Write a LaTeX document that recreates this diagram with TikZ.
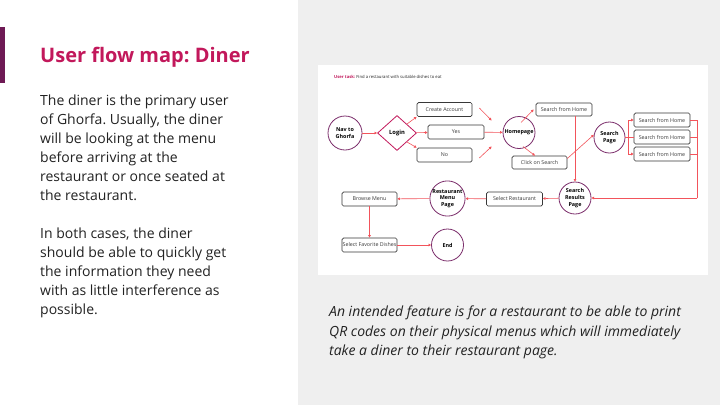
\documentclass[tikz,border=0pt]{standalone}
\usepackage{fontspec}
\setmainfont{Open Sans}
\frenchspacing
\usetikzlibrary{arrows.meta,calc,shapes.geometric}
\definecolor{accentPurple}{HTML}{6E1A55}
\definecolor{titlePink}{HTML}{C2185B}
\definecolor{textDark}{HTML}{222222}
\definecolor{panelGrey}{HTML}{EFEFEF}
\definecolor{flowRed}{HTML}{F2545B}
\definecolor{ringPurple}{HTML}{7B2D6B}
\definecolor{boxGrey}{HTML}{383838}

\begin{document}
\begin{tikzpicture}[x=1pt,y=-1pt,
  screen/.style={draw=boxGrey,rounded corners=1.5pt,line width=0.7pt,minimum width=55pt,minimum height=14pt,inner sep=0pt,font=\fontsize{5.3}{6}\selectfont,text=boxGrey},
  ring/.style={circle,draw=ringPurple,line width=0.8pt,minimum size=32pt,inner sep=0pt,align=center,font=\bfseries\fontsize{5.4}{6.6}\selectfont},
  flow/.style={draw=flowRed,line width=0.6pt,-{Triangle[length=2.6pt,width=2.6pt]}},
  bracket/.style={draw=flowRed,line width=0.6pt},
  bodyText/.style={anchor=north west,inner sep=0pt,align=left,text=textDark,font=\fontsize{14}{19}\selectfont}]
\useasboundingbox (0,0) rectangle (720,405);
% left half and grey panel
\fill[white] (0,0) rectangle (298,405);
\fill[panelGrey] (298,0) rectangle (720,405);
\fill[accentPurple] (0,27) rectangle (5,83);
\node[anchor=base west,inner sep=0pt,text=titlePink,font=\bfseries\fontsize{20}{24}\selectfont] (title) at (40,62) {User flow map: Diner};
\node[bodyText] (intro) at (40,94.5) {The diner is the primary user\\of Ghorfa. Usually, the diner\\will be looking at the menu\\before arriving at the\\restaurant or once seated at\\the restaurant.};
\node[bodyText] (cases) at (40,227.5) {In both cases, the diner\\should be able to quickly get\\the information they need\\with as little interference as\\possible.};
\node[bodyText,font=\itshape\fontsize{14}{19.5}\selectfont] (note) at (329,306) {An intended feature is for a restaurant to be able to print\\QR codes on their physical menus which will immediately\\take a diner to their restaurant page.};

% diagram card
\fill[white] (318,65) rectangle (708,275);
\node[anchor=west,inner sep=0pt,text=textDark,font=\fontsize{4.2}{5}\selectfont] (task) at (334,77) {{\color{titlePink}\bfseries User task:} Find a restaurant with suitable dishes to eat};

% first row
\node[ring,minimum size=34pt] (nav) at (345,133) {Nav to\\Ghorfa};
\node[diamond,draw=titlePink,line width=0.8pt,minimum width=39pt,minimum height=35pt,inner sep=0pt,font=\bfseries\fontsize{5.8}{7}\selectfont] (login) at (397,133) {Login};
\node[screen] (create) at (444.5,109.5) {Create Account};
\node[screen,minimum width=56pt] (yes) at (456,132) {Yes};
\node[screen] (no) at (444.5,155) {No};
\node[ring] (home) at (519,132.5) {Homepage};
\node[screen,minimum width=56pt,minimum height=13pt] (topSearch) at (564,109.5) {Search from Home};
\node[screen,minimum height=13pt] (click) at (539.5,162.5) {Click on Search};
\node[ring,minimum size=31pt] (searchPage) at (609.5,137.5) {Search\\Page};
\node[screen,minimum width=56pt] (optA) at (662,120) {Search from Home};
\node[screen,minimum width=56pt] (optB) at (662,137) {Search from Home};
\node[screen,minimum width=56pt] (optC) at (662,154) {Search from Home};
% second row
\node[ring] (results) at (575,198) {Search\\Results\\Page};
\node[screen,minimum width=56pt] (pick) at (514.5,199) {Select Restaurant};
\node[ring] (menuPage) at (447.5,198.5) {Restaurant\\Menu\\Page};
\node[screen] (browse) at (369.5,199) {Browse Menu};
\node[screen] (dishes) at (369.5,245) {Select Favorite Dishes};
\node[ring] (endNode) at (447.5,245) {End};

% connectors
\draw[flow] (nav) -- (login);
\draw[flow] (login.north east) -- (create.south west);
\draw[flow] (login) -- (yes);
\draw[flow] (login.south east) -- (no.north west);
\draw[flow] ($(create.east)+(7,-1.5)$) -- ($(home.west)+(-11,-12)$);
\draw[flow] (yes) -- (home);
\draw[flow] ($(no.east)+(7,3)$) -- ($(home.west)+(-11,14)$);
\draw[flow] ($(home)+(2,-10)$) -- ($(topSearch.west)+(-2,0)$);
\draw[flow] ($(home)+(4,14)$) -- ($(click.north)+(-4.5,0)$);
\draw[flow] (results |- topSearch.south) -- (results);
\draw[flow] ($(click.east)+(0,-4)$) -- (searchPage.170);
\draw[bracket] (searchPage.east) -- ++(3,0) coordinate (fork);
\draw[bracket] (fork |- optA) -- (fork |- optC);
\draw[flow] (fork |- optA) -- (optA);
\draw[bracket] (fork |- optB) -- (optB);
\draw[flow] (fork |- optC) -- (optC);
\draw[bracket] (optA.east) -- ++(7,0) coordinate (back);
\draw[bracket] (optB.east) -- (back |- optB);
\draw[bracket] (optC.east) -- (back |- optC);
\draw[bracket] (back) -- (back |- results);
\draw[flow] (back |- results) -- (results);
\draw[flow] (results) -- (pick);
\draw[flow] (pick) -- (menuPage);
\draw[flow] (menuPage) -- (browse);
\draw[flow] (browse) -- (dishes);
\draw[flow] (dishes) -- (endNode);
\end{tikzpicture}
\end{document}
